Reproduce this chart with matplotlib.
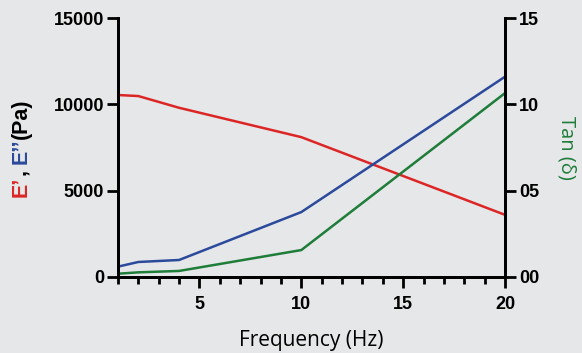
import matplotlib.pyplot as plt
import numpy as np

freq = [1, 2, 4, 10, 20]
e_storage = [10540, 10480, 9800, 8100, 3600]
e_loss = [600, 870, 985, 3760, 11600]
tan_delta = [0.19, 0.27, 0.35, 1.56, 10.65]

left_ticks = [0, 5000, 10000, 15000]
right_ticks = [0, 5, 10, 15]
right_labels = ["00", "05", "10", "15"]
x_ticks = [5, 10, 15, 20]

RED = "#dc2626"
BLUE = "#2b4a9b"
GREEN = "#1f7d3a"
BG = "#e6e7e9"

plt.rcParams["font.family"] = ["Liberation Sans", "DejaVu Sans"]

fig = plt.figure(figsize=(5.82, 3.53), dpi=100, facecolor=BG)
ax = fig.add_axes([0.2027, 0.2153, 0.665, 0.7337])
ax.set_facecolor(BG)
ax2 = ax.twinx()

ax.plot(freq, e_storage, color=RED, lw=1.8)
ax.plot(freq, e_loss, color=BLUE, lw=1.8)
ax2.plot(freq, tan_delta, color=GREEN, lw=1.8)

ax.set_xlim(1, 20)
ax.set_ylim(0, 15000)
ax2.set_ylim(0, 15)

for a in (ax, ax2):
    a.spines["top"].set_visible(False)
    for s in ("left", "right", "bottom"):
        a.spines[s].set_linewidth(2)

ax.set_xticks(x_ticks)
ax.set_xticks(range(1, 21), minor=True)
ax.set_yticks(left_ticks)
ax2.set_yticks(right_ticks)
ax2.set_yticklabels(right_labels)

ax.tick_params(axis="x", which="major", length=8, width=2, pad=6)
ax.tick_params(axis="x", which="minor", length=5, width=2)
ax.tick_params(axis="y", length=8, width=2, pad=2)
ax2.tick_params(axis="y", length=8, width=2, pad=2)
for lab in ax.get_xticklabels() + ax.get_yticklabels() + ax2.get_yticklabels():
    lab.set_fontsize(13)
    lab.set_fontweight("bold")

ax.set_xlabel("Frequency (Hz)", fontsize=15, family="Open Sans", labelpad=12)
ax2.set_ylabel("Tan (δ)", fontsize=14.5, family="Open Sans", color=GREEN,
               rotation=270, labelpad=27)

# multicolour left label, stacked bottom to top
pieces = [("E’", RED), (", ", "black"), ("E’’", BLUE), ("(Pa)", "black")]
texts = [fig.text(0, 0, s, color=c, rotation=90, rotation_mode="anchor",
                  ha="left", va="center", fontsize=15.5, fontweight="bold")
         for s, c in pieces]
r = fig.canvas.get_renderer()
heights = [t.get_window_extent(r).height / fig.bbox.height for t in texts]
y = (1 - 147.5 / 353) - sum(heights) / 2
for t, h in zip(texts, heights):
    t.set_position((21 / 582, y))
    y += h

fig.savefig("out.png", dpi=100, facecolor=BG)
